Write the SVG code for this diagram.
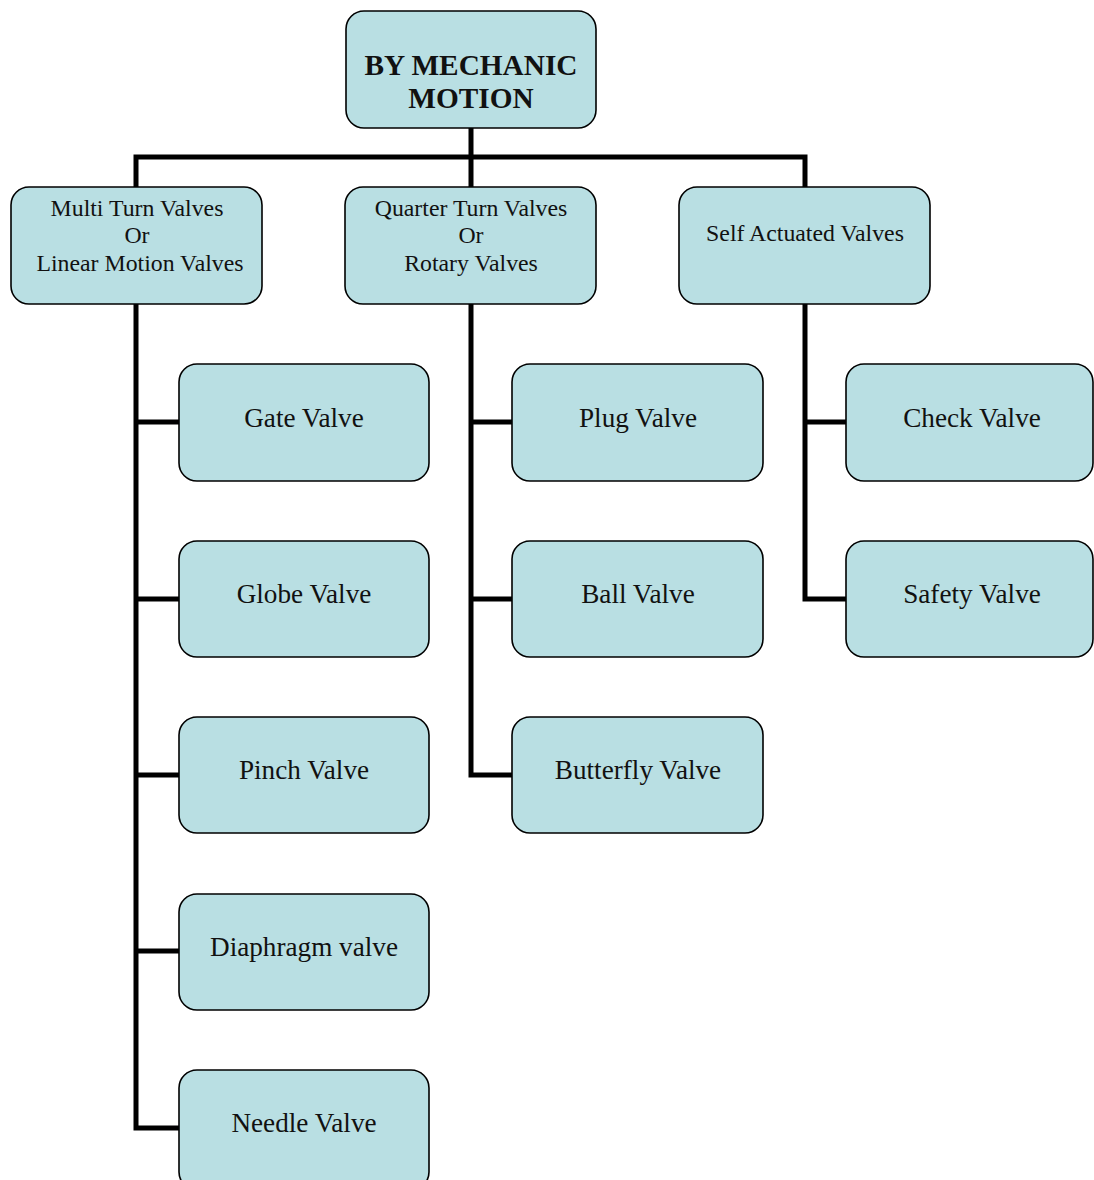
<svg xmlns="http://www.w3.org/2000/svg" width="1094" height="1180" viewBox="0 0 1094 1180">
<style>
.box{fill:#B9DFE3;stroke:#000;stroke-width:1.6}
.t{font-family:"Liberation Serif","Times New Roman",serif;fill:#111;text-anchor:middle}
.root{font-size:29.3px;font-weight:bold}
.cat{font-size:23.8px}
.leaf{font-size:27.2px}
.conn{fill:none;stroke:#000;stroke-width:5;stroke-linejoin:miter;stroke-linecap:butt}
</style>
<rect width="1094" height="1180" fill="#fff"/>
<g id="connectors" class="conn">
<path d="M471 128V157M136 187V157H805V187M471 157V187"/>
<path d="M136 304V1128H179M136 422H179M136 599H179M136 775H179M136 951H179"/>
<path d="M471 304V775H512M471 422H512M471 599H512"/>
<path d="M805 304V599H846M805 422H846"/>
</g>
<g id="root"><rect class="box" x="346" y="11" width="250" height="117" rx="18"/><text class="t root" x="471" y="75">BY MECHANIC</text><text class="t root" x="471" y="108">MOTION</text></g>
<g id="multi"><rect class="box" x="11" y="187" width="251" height="117" rx="18"/><text class="t cat" x="137" y="216">Multi Turn Valves</text><text class="t cat" x="137" y="243">Or</text><text class="t cat" x="140" y="271">Linear Motion Valves</text></g>
<g id="quarter"><rect class="box" x="345" y="187" width="251" height="117" rx="18"/><text class="t cat" x="471" y="216">Quarter Turn Valves</text><text class="t cat" x="471" y="243">Or</text><text class="t cat" x="471" y="271">Rotary Valves</text></g>
<g id="self"><rect class="box" x="679" y="187" width="251" height="117" rx="18"/><text class="t cat" x="805" y="241">Self Actuated Valves</text></g>
<g id="gate"><rect class="box" x="179" y="364" width="250" height="117" rx="18"/><text class="t leaf" x="304" y="427">Gate Valve</text></g>
<g id="globe"><rect class="box" x="179" y="541" width="250" height="116" rx="18"/><text class="t leaf" x="304" y="603">Globe Valve</text></g>
<g id="pinch"><rect class="box" x="179" y="717" width="250" height="116" rx="18"/><text class="t leaf" x="304" y="779">Pinch Valve</text></g>
<g id="diaphragm"><rect class="box" x="179" y="894" width="250" height="116" rx="18"/><text class="t leaf" x="304" y="956">Diaphragm valve</text></g>
<g id="needle"><rect class="box" x="179" y="1070" width="250" height="120" rx="18"/><text class="t leaf" x="304" y="1132">Needle Valve</text></g>
<g id="plug"><rect class="box" x="512" y="364" width="251" height="117" rx="18"/><text class="t leaf" x="638" y="427">Plug Valve</text></g>
<g id="ball"><rect class="box" x="512" y="541" width="251" height="116" rx="18"/><text class="t leaf" x="638" y="603">Ball Valve</text></g>
<g id="butterfly"><rect class="box" x="512" y="717" width="251" height="116" rx="18"/><text class="t leaf" x="638" y="779">Butterfly Valve</text></g>
<g id="check"><rect class="box" x="846" y="364" width="247" height="117" rx="18"/><text class="t leaf" x="972" y="427">Check Valve</text></g>
<g id="safety"><rect class="box" x="846" y="541" width="247" height="116" rx="18"/><text class="t leaf" x="972" y="603">Safety Valve</text></g>
</svg>
